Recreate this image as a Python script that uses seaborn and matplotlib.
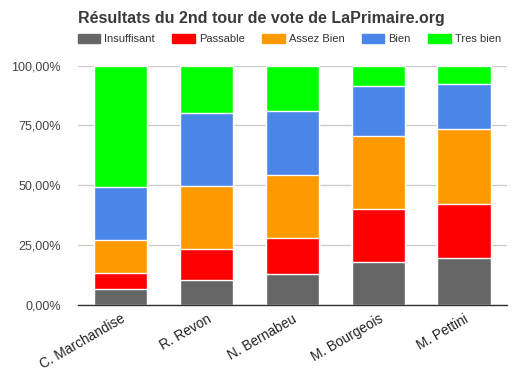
import matplotlib
matplotlib.use('Agg')
import matplotlib.pyplot as plt
import matplotlib.patches as mpatches
import numpy as np
import pandas as pd
import seaborn as sns

candidates = ['C. Marchandise', 'R. Revon', 'N. Bernabeu', 'M. Bourgeois', 'M. Pettini']
levels = ['Insuffisant', 'Passable', 'Assez Bien', 'Bien', 'Tres bien']
insuffisant = [6.6, 10.3, 12.8, 17.8, 19.5]
passable = [6.6, 13.0, 15.1, 22.2, 22.6]
assez_bien = [13.8, 26.3, 26.3, 30.5, 31.3]
bien = [22.2, 30.6, 26.7, 20.9, 18.8]
tres_bien = [50.8, 19.8, 19.1, 8.6, 7.8]
colors = ['#666666', '#ff0000', '#ff9900', '#4a86e8', '#00ff00']
yticks = [0, 25, 50, 75, 100]
ytick_labels = ['0,00%', '25,00%', '50,00%', '75,00%', '100,00%']

sns.set_style('white')
plt.rcParams['font.family'] = ['Liberation Sans', 'DejaVu Sans']

series = np.array([insuffisant, passable, assez_bien, bien, tres_bien])
cum = np.cumsum(series, axis=0)
cum = cum / cum[-1] * 100

fig = plt.figure(figsize=(5.12, 3.77), dpi=100)
ax = fig.add_axes([0.152, 0.191, 0.838, 0.635])

# draw cumulative totals from top level down so each one hides the rest
for i in range(len(levels) - 1, -1, -1):
    df = pd.DataFrame({'candidat': candidates, 'val': cum[i]})
    sns.barplot(data=df, x='candidat', y='val', color=colors[i], ax=ax, width=0.62,
                saturation=1, edgecolor='white', linewidth=1, zorder=3)

ax.set_ylim(0, 100)
ax.set_xlim(-0.5, 4.5)
ax.set_yticks(yticks)
ax.set_yticklabels(ytick_labels, fontsize=9, color='#444444')
ax.yaxis.grid(True, color='#cccccc', linewidth=1, zorder=0)
ax.set_axisbelow(True)
ax.set_xlabel(None)
ax.set_ylabel(None)
ax.tick_params(axis='y', length=0, pad=12)
ax.tick_params(axis='x', length=0, pad=5)
plt.setp(ax.get_xticklabels(), rotation=30, ha='right', rotation_mode='anchor',
         fontsize=9.8, color='#222222')
for s in ['left', 'right', 'top']:
    ax.spines[s].set_visible(False)
ax.spines['bottom'].set_color('#333333')
ax.spines['bottom'].set_linewidth(1)
ax.spines['bottom'].set_zorder(5)

fig.text(0.152, 0.952, 'Résultats du 2nd tour de vote de LaPrimaire.org', fontsize=11.5,
         fontweight='bold', color='#3a3a3a', ha='left', va='center')

handles = [mpatches.Patch(color=c, label=l) for c, l in zip(colors, levels)]
fig.legend(handles=handles, ncol=5, frameon=False, fontsize=8, loc='center left',
           bbox_to_anchor=(0.152, 0.896), borderaxespad=0, borderpad=0,
           handlelength=2.0, handleheight=0.9, handletextpad=0.36,
           columnspacing=1.6, labelcolor='#333333')

plt.savefig('out.png', dpi=100)
